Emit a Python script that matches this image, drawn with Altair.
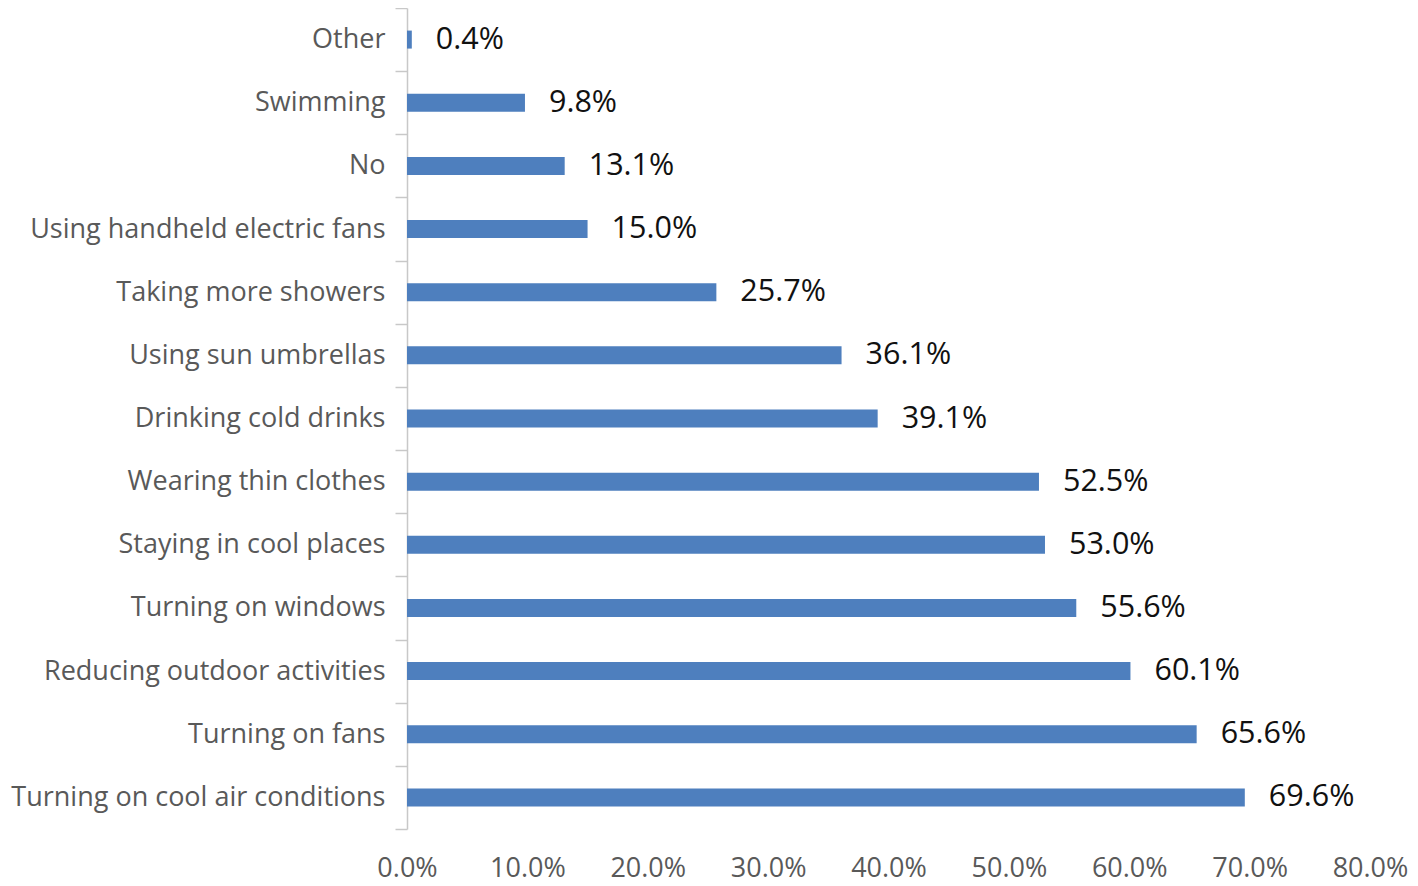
import altair as alt
import pandas as pd

categories = [
    "Other", "Swimming", "No", "Using handheld electric fans", "Taking more showers",
    "Using sun umbrellas", "Drinking cold drinks", "Wearing thin clothes",
    "Staying in cool places", "Turning on windows", "Reducing outdoor activities",
    "Turning on fans", "Turning on cool air conditions",
]
values = [0.004, 0.098, 0.131, 0.150, 0.257, 0.361, 0.391, 0.525, 0.530, 0.556, 0.601, 0.656, 0.696]

df = pd.DataFrame({"cat": categories, "val": values})

FONT = "Open Sans"

base = alt.Chart(df).encode(
    y=alt.Y("cat:N", sort=categories,
            scale=alt.Scale(paddingInner=0, paddingOuter=0),
            axis=alt.Axis(title=None, tickBand="extent", tickSize=12, tickColor="#C8C8C8",
                          domainColor="#C8C8C8", domainWidth=1.5, tickWidth=1.5,
                          labelFont=FONT, labelFontSize=27, labelColor="#595959",
                          labelPadding=10, labelLimit=500)),
)

bars = base.mark_bar(color="#4E7FBE", height=18).encode(
    x=alt.X("val:Q", scale=alt.Scale(domain=[0, 0.8], nice=False),
            axis=alt.Axis(title=None, format=".1%", values=[0, .1, .2, .3, .4, .5, .6, .7, .8],
                          grid=False, domain=False, ticks=False,
                          labelFont=FONT, labelFontSize=27, labelColor="#595959",
                          labelPadding=26, labelFlush=False)),
)

labels = base.mark_text(align="left", baseline="middle", dx=24, font=FONT, fontSize=30.5,
                        color="#111111").encode(
    x="val:Q",
    text=alt.Text("val:Q", format=".1%"),
)

chart = (bars + labels).properties(
    width=963, height=821,
    autosize=alt.AutoSizeParams(type="none"),
    padding={"left": 399, "top": 0, "right": 40, "bottom": 54},
).configure_view(stroke=None)

chart.save("out.html", embed_options={"renderer": "svg", "actions": False})
